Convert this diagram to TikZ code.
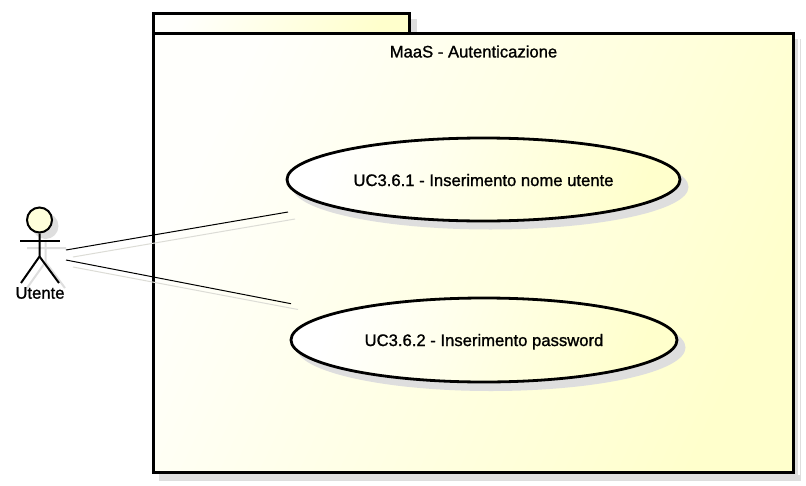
\documentclass[tikz,border=0pt]{standalone}
\usepackage{fontspec}
\setmainfont{Liberation Sans}
\newfontfamily\umlfont[FakeBold=1.2]{Liberation Sans}
\usetikzlibrary{shapes.geometric}
\definecolor{umly}{HTML}{FFFFCC}
\definecolor{umls}{HTML}{DEDEDE}
\definecolor{umll}{HTML}{DCDCD6}
\tikzset{
  x=1pt,y=-1pt,
  lbl/.style={font=\umlfont\fontsize{16.65pt}{18pt}\selectfont,text=black,inner sep=0pt},
  pkgfill/.style={left color=umly!6!white,middle color=umly!55!white,right color=umly,shading angle=65},
  usecase/.style={ellipse,draw=black,line width=2.8pt,minimum width=#1,inner sep=0pt,
    left color=white,right color=umly,shading angle=70,lbl},
  ucshadow/.style={ellipse,fill=umls,draw=none,inner sep=0pt},
  stick/.style={draw=black,line width=2pt},
  stickshadow/.style={draw=umls,line width=2pt},
  assoc/.style={draw=black,line width=1pt},
  assocshadow/.style={draw=umll,line width=1pt},
  frame/.style={draw=black,line width=3pt}
}
\begin{document}
\begin{tikzpicture}
\useasboundingbox (0,0) rectangle (806,485);
\fill[white] (0,0) rectangle (806,485);
% package shadow
\fill[umls] (159,39) rectangle (801,481);
\fill[umls] (410,19) rectangle (417,33);
\fill[white] (798,39) rectangle (799.5,475);
% package
\shade[pkgfill] (153.5,13.5) rectangle (409.3,33.5);
\draw[frame] (153.5,13.5) rectangle (409.3,33.5);
\shade[pkgfill] (153.5,33.5) rectangle (793.5,472.3);
\draw[frame] (153.5,33.5) rectangle (793.5,472.3);
\node[lbl] (title) at (473.5,51.5) {MaaS - Autenticazione};
% ellipse shadows
\node[ucshadow,minimum width=396pt,minimum height=85pt] (s1) at (490.5,187) {};
\node[ucshadow,minimum width=389pt,minimum height=87pt] (s2) at (491,347.5) {};
% use cases
\node[usecase=393pt,minimum height=83pt] (uc1) at (483.5,179.5) {\raisebox{-6.5pt}[0pt][0pt]{UC3.6.1 - Inserimento nome utente}};
\node[usecase=386pt,minimum height=84pt] (uc2) at (484,340) {\raisebox{-6pt}[0pt][0pt]{UC3.6.2 - Inserimento password}};
% actor shadow
\node[circle,fill=umls,minimum size=26pt,inner sep=0pt] (heads) at (45.5,226) {};
\draw[stickshadow] (27,248) -- (66,248) (45.5,240) -- (45.5,262) -- (27,288) (45.5,262) -- (65,288);
% actor
\node[circle,draw=black,line width=2pt,minimum size=25pt,inner sep=0pt,fill=umly!70!white] (head) at (39.5,220) {};
\coordinate (hip) at (39.5,256.5);
\coordinate (shl) at (20,241.3);
\coordinate (shr) at (60,241.3);
\coordinate (footl) at (21,283);
\coordinate (footr) at (59,283);
\draw[stick] (shl) -- (shr);
\draw[stick] (head.south) -- (hip) -- (footl);
\draw[stick] (hip) -- (footr);
\node[lbl] (actor) at (40,293) {Utente};
% association shadows
\coordinate (a1s) at (73,257);
\coordinate (b1s) at (295,219);
\coordinate (a2s) at (73,267);
\coordinate (b2s) at (298,309.5);
\draw[assocshadow] (a1s) -- (b1s);
\draw[assocshadow] (a2s) -- (b2s);
% associations
\coordinate (a1) at (66,250);
\coordinate (b1) at (288,212);
\coordinate (a2) at (66,260);
\coordinate (b2) at (291,303.7);
\draw[assoc] (a1) -- (b1);
\draw[assoc] (a2) -- (b2);
\end{tikzpicture}
\end{document}
